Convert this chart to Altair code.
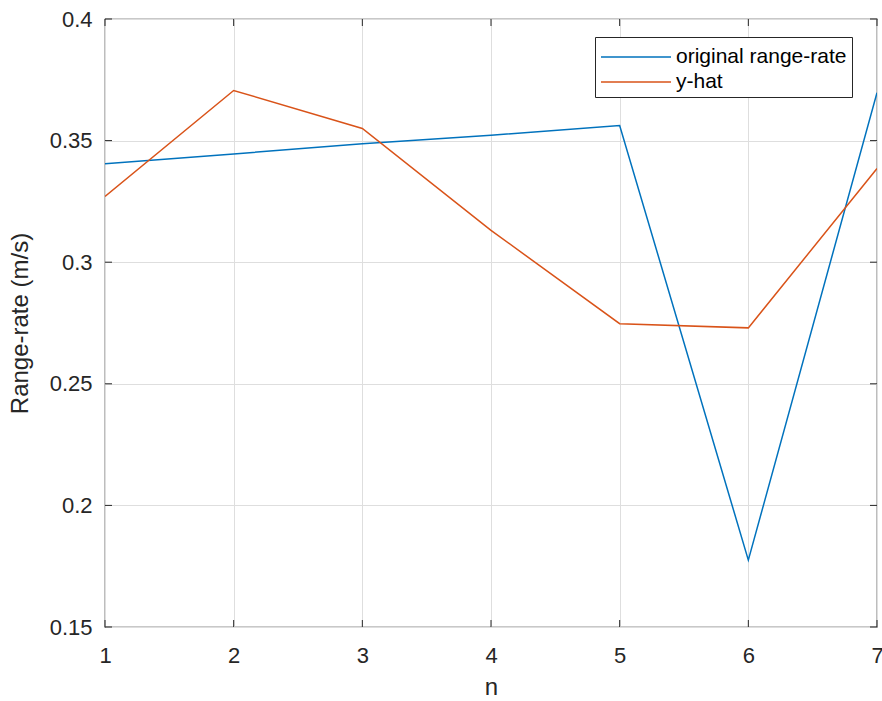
import altair as alt
import pandas as pd

n_values = [1, 2, 3, 4, 5, 6, 7]
original = [0.3405, 0.3445, 0.3487, 0.3522, 0.3562, 0.1775, 0.3697]
yhat = [0.3270, 0.3706, 0.3550, 0.3131, 0.2747, 0.2730, 0.3385]
series_names = ["original range-rate", "y-hat"]
series_colors = ["#0072BD", "#D95319"]
x_ticks = [1, 2, 3, 4, 5, 6, 7]
y_ticks = [0.15, 0.2, 0.25, 0.3, 0.35, 0.4]

W, H = 772, 608
FONT = "Liberation Sans"
AX = "#262626"

df = pd.DataFrame({
    "n": n_values * 2,
    "value": original + yhat,
    "series": [series_names[0]] * len(n_values) + [series_names[1]] * len(n_values),
})
xt = pd.DataFrame({"t": x_ticks})
yt = pd.DataFrame({"t": y_ticks})

xscale = alt.Scale(domain=[1, 7], nice=False, zero=False)
yscale = alt.Scale(domain=[0.15, 0.4], nice=False, zero=False)

lines = alt.Chart(df).mark_line(strokeWidth=1.5, clip=True).encode(
    x=alt.X("n:Q", scale=xscale,
            axis=alt.Axis(values=x_ticks, title="n", format="d", grid=True,
                          ticks=False, domain=False, labelPadding=18,
                          labelFlush=False, titlePadding=9)),
    y=alt.Y("value:Q", scale=yscale,
            axis=alt.Axis(values=y_ticks, title="Range-rate (m/s)", format=".2~f",
                          grid=True, ticks=False, domain=False, labelPadding=13,
                          labelFlush=False, titlePadding=17)),
    color=alt.Color("series:N",
                    scale=alt.Scale(domain=series_names, range=series_colors),
                    legend=alt.Legend(
                        title=None, orient="none", legendX=490, legendY=18,
                        symbolType="M-1,0H4", symbolSize=784, symbolStrokeWidth=1.5,
                        labelOffset=46, rowPadding=0, padding=5,
                        strokeColor=AX, fillColor="white", cornerRadius=0,
                        labelFontSize=21, labelFont=FONT, labelColor="#000000",
                        labelLimit=400)),
    order=alt.Order("n:Q"),
)

tick_len = 7
xb = alt.Chart(xt).mark_rule(color=AX, strokeWidth=1).encode(
    x=alt.X("t:Q", scale=xscale), y=alt.value(H), y2=alt.value(H - tick_len))
xtop = alt.Chart(xt).mark_rule(color=AX, strokeWidth=1).encode(
    x=alt.X("t:Q", scale=xscale), y=alt.value(0), y2=alt.value(tick_len))
yl = alt.Chart(yt).mark_rule(color=AX, strokeWidth=1).encode(
    y=alt.Y("t:Q", scale=yscale), x=alt.value(0), x2=alt.value(tick_len))
yr = alt.Chart(yt).mark_rule(color=AX, strokeWidth=1).encode(
    y=alt.Y("t:Q", scale=yscale), x=alt.value(W - tick_len), x2=alt.value(W))

chart = alt.layer(lines, xb, xtop, yl, yr).properties(
    width=W, height=H,
    autosize=alt.AutoSizeParams(type="none"),
    padding={"left": 105, "top": 19, "right": 5, "bottom": 74},
    background="white",
).configure_view(
    stroke=AX, strokeWidth=1.2
).configure_axis(
    gridColor="#dedede", gridWidth=1, gridOpacity=1,
    labelFont=FONT, labelFontSize=22, labelColor=AX,
    titleFont=FONT, titleFontSize=24, titleColor=AX, titleFontWeight="normal",
)

chart.save("out.html", embed_options={"renderer": "svg", "actions": False})
